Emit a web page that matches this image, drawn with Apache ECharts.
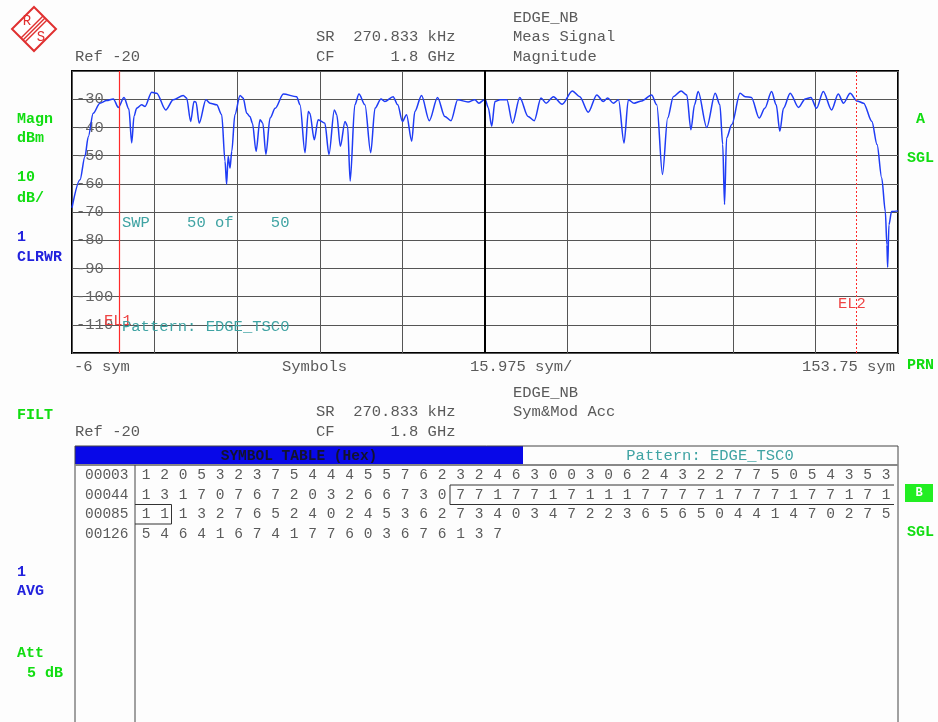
<!DOCTYPE html>
<html>
<head>
<meta charset="utf-8">
<script src="https://cdn.jsdelivr.net/npm/echarts@6/dist/echarts.min.js"></script>
<style>
  html, body { margin: 0; padding: 0; background: #fdfdfd; }
  #main { width: 938px; height: 722px; }
</style>
</head>
<body>
<div id="main"></div>
<script>
// trace: symbol position (sym) / magnitude (dBm)
var symbolPos = [-6, -4.45, -3.5, -2.85, -1.9, -0.6, 0.7, 2.0, 2.96, 4.06, 5.0, 5.55, 6.0, 6.5, 7.48, 8.12, 9.41, 10.38, 12.12, 13.59,
  15.52, 16.17, 16.95, 17.59, 17.98, 18.6, 19.9, 20.7, 21.98, 22.95, 23.6, 23.9, 24.2, 24.56, 24.9, 25.5, 26.5, 27.1, 27.8, 28.4,
  28.9, 29.6, 30.36, 30.9, 31.5, 32.3, 33.3, 34.87, 37.45, 38.1, 39.06, 39.7, 40.0, 40.86, 41.6, 42.9, 43.7, 44.73, 45.2, 45.9,
  46.8, 47.3, 47.8, 48.7, 49.5, 50.66, 51.77, 52.6, 53.76, 54.5, 56.1, 57.0, 57.9, 58.7, 59.7, 60.3, 61.6, 63.1, 64.7, 66.1,
  67.3, 68.6, 70.6, 71.9, 72.7, 73.9, 74.5, 75.17, 75.8, 76.8, 78.1, 79.2, 80.6, 82.2, 83.4, 84.7, 85.7, 87.1, 88.8, 90.76,
  92.2, 93.85, 95.5, 96.75, 97.6, 98.7, 99.7, 100.76, 101.6, 102.7, 104.2, 106.1, 107.1, 108.2, 109.2, 110.3, 111.8, 112.9, 113.7, 114.4,
  115.1, 116.75, 118.4, 119.3, 119.85, 120.2, 120.6, 121.6, 123.2, 124.2, 125.4, 126.9, 128, 129.3, 130.2, 130.9, 131.6, 132.9, 134.5, 135.8,
  136.9, 138.0, 139.3, 140.9, 142.2, 143.2, 144.5, 145.8, 147.1, 148.7, 149.7, 150.6, 151.3, 151.6, 151.75, 152.0, 152.5, 153.75];
var magnitude = [-68.5, -58.6, -50.3, -43.3, -35, -31.4, -30.5, -29.9, -32.9, -29.4, -33.5, -45.5, -36, -33.2, -32, -32.6, -27.5, -27.9, -33.8, -30.2,
  -28.7, -29.6, -37.9, -30.8, -31, -38.5, -30.2, -31.4, -32, -35.5, -52, -60.2, -50.2, -54.4, -48.5, -35.5, -28.7, -29.6, -35, -36.1,
  -38.5, -48.5, -37.3, -38.5, -49.6, -36.7, -33.2, -28.2, -29.1, -32, -49, -34.4, -35, -44.4, -37.3, -38.5, -49.6, -33.8, -35.5, -46.7,
  -37.9, -39.6, -59, -32, -28.2, -32, -49, -33.2, -29.9, -30.8, -29.1, -32, -37.9, -35.5, -44.9, -34.4, -28.7, -37.6, -29.4, -36.1,
  -37.6, -30.2, -31, -30.2, -31.4, -30, -33, -39.6, -30.8, -30.2, -30.2, -38.5, -29.4, -36.1, -37.6, -29.6, -31.4, -29.1, -31.8, -27.1,
  -29.1, -34.6, -28.5, -30.8, -29.6, -31.4, -30.2, -45.5, -30.2, -31.4, -30.6, -28.5, -32, -56.7, -36.7, -29.1, -27.1, -28.5, -40.8, -32,
  -27.3, -40, -27.9, -32, -46.1, -67.3, -43.7, -39, -27.9, -29.1, -29.4, -36.7, -33.2, -27.3, -32, -41.4, -33.2, -27.9, -32.9, -29.9,
  -29.4, -33.2, -27.3, -33.8, -28.2, -31.4, -27.9, -30.6, -31.4, -37.9, -46.1, -57.9, -69.8, -81.6, -89.6, -74.5, -69.8, -69.6];

var xStart = -6, symPerDiv = 15.975;
var displayLines = [3.2, 145.6];   // EL1, EL2

var rowLabels = ['00003', '00044', '00085', '00126'];
var symRows = [
  [1,2,0,5,3,2,3,7,5,4,4,4,5,5,7,6,2,3,2,4,6,3,0,0,3,0,6,2,4,3,2,2,7,7,5,0,5,4,3,5,3],
  [1,3,1,7,0,7,6,7,2,0,3,2,6,6,7,3,0,7,7,1,7,7,1,7,1,1,1,7,7,7,7,1,7,7,7,1,7,7,1,7,1],
  [1,1,1,3,2,7,6,5,2,4,0,2,4,5,3,6,2,7,3,4,0,3,4,7,2,2,3,6,5,6,5,0,4,4,1,4,7,0,2,7,5],
  [5,4,6,4,1,6,7,4,1,7,7,6,0,3,6,7,6,1,3,7]
];

var MONO = '"Liberation Mono", "DejaVu Sans Mono", monospace';
var GRAY = '#5a5a5a', GREEN = '#11dd11', BLUE = '#2222dd', TEAL = '#3fa3a3', RED = '#ee4444';

function txt(s, x, y, color, opt) {
  opt = opt || {};
  return {
    type: 'text', x: x, y: y, silent: true, z: 10,
    style: {
      text: s, fill: color,
      font: (opt.bold ? 'bold ' : '') + (opt.size || 15.5) + 'px ' + MONO,
      textAlign: opt.align || 'left', align: opt.align || 'left',
      textVerticalAlign: 'middle', verticalAlign: 'middle'
    }
  };
}
function lbl(s, x, y, color) { return txt(s, x, y, color, { bold: true, size: 15 }); }
function ln(x1, y1, x2, y2, color, w) {
  return { type: 'line', silent: true, z: 5, shape: { x1: x1, y1: y1, x2: x2, y2: y2 },
    style: { stroke: color || '#444', lineWidth: w || 1 } };
}

var g = [];
// R&S logo
var LOGO = '#e03030';
g.push({ type: 'polygon', silent: true, shape: { points: [[34, 7], [56, 29], [34, 51], [12, 29]] },
  style: { fill: '#fff', stroke: LOGO, lineWidth: 2 } });
g.push(ln(45, 18, 23, 40, LOGO, 1.5), ln(47, 20, 25, 42, LOGO, 1.5), ln(43, 16, 21, 38, LOGO, 1.5));
g.push(txt('R', 27, 21, LOGO, { size: 14, align: 'center' }), txt('S', 41, 37, LOGO, { size: 14, align: 'center' }));

// upper screen header
g.push(txt('EDGE_NB', 513, 18, GRAY), txt('SR  270.833 kHz', 316, 37, GRAY), txt('Meas Signal', 513, 37, GRAY),
  txt('Ref -20', 75, 57, GRAY), txt('CF      1.8 GHz', 316, 57, GRAY), txt('Magnitude', 513, 57, GRAY));
g.push(lbl('Magn', 17, 119, GREEN), lbl('dBm', 17, 138, GREEN), lbl('10', 17, 177, GREEN), lbl('dB/', 17, 198, GREEN),
  lbl('1', 17, 237, BLUE), lbl('CLRWR', 17, 257, BLUE));
g.push(lbl('A', 916, 119, GREEN), lbl('SGL', 907, 158, GREEN));
g.push(txt('SWP    50 of    50', 122, 223, TEAL), txt('EL1', 104, 321, RED), txt('Pattern: EDGE_TSC0', 122, 327, TEAL),
  txt('EL2', 838, 304, RED));
g.push(txt('-6 sym', 74, 367, GRAY), txt('Symbols', 282, 367, GRAY), txt('15.975 sym/', 470, 367, GRAY),
  txt('153.75 sym', 802, 367, GRAY), lbl('PRN', 907, 365, GREEN));

// lower screen header
g.push(txt('EDGE_NB', 513, 393, GRAY), lbl('FILT', 17, 415, GREEN),
  txt('SR  270.833 kHz', 316, 412, GRAY), txt('Sym&Mod Acc', 513, 412, GRAY),
  txt('Ref -20', 75, 432, GRAY), txt('CF      1.8 GHz', 316, 432, GRAY));
g.push(lbl('1', 17, 572, BLUE), lbl('AVG', 17, 591, BLUE), lbl('Att', 17, 653, GREEN), lbl('5 dB', 27, 673, GREEN));

// symbol table
var tL = 75, tR = 898, tT = 446, hB = 465, colX = 135, d0 = 146, dStep = 18.5, r0 = 475.5, rStep = 19.5;
g.push({ type: 'rect', silent: true, shape: { x: tL, y: tT, width: 448, height: 18 }, style: { fill: '#0808e8' } });
g.push(ln(tL, tT, tR, tT, '#444'), ln(tL, tT, tL, 722, '#444'), ln(tR, tT, tR, 722, '#444'),
  ln(tL, hB, tR, hB, '#888', 2), ln(colX, hB, colX, 722, '#444'));
g.push(txt('SYMBOL TABLE (Hex)', 299, 456, '#14142e', { bold: true, size: 14.5, align: 'center' }),
  txt('Pattern: EDGE_TSC0', 710, 456, TEAL, { align: 'center' }));
rowLabels.forEach(function (lab, r) {
  var y = r0 + r * rStep;
  g.push(txt(lab, 85, y, GRAY, { size: 14.5 }));
  symRows[r].forEach(function (v, i) {
    g.push(txt(String(v), d0 + i * dStep, y, GRAY, { size: 14.5, align: 'center' }));
  });
});
// training sequence highlight (row 2 from symbol 17, row 3 first two)
var bx = d0 + 17 * dStep - 10.5, byT = r0 + rStep - 10, byB = r0 + 2 * rStep - 10, bx2 = d0 + dStep + 7;
g.push(ln(bx, byT, 894, byT, '#333'), ln(bx, byB, 894, byB, '#333'), ln(bx, byT, bx, byB, '#333'));
g.push(ln(colX, byB + rStep, bx2, byB + rStep, '#333'), ln(bx2, byB, bx2, byB + rStep, '#333'), ln(colX, byB, bx2, byB, '#333'));
// B marker
g.push({ type: 'rect', silent: true, shape: { x: 905, y: 484, width: 28, height: 18 }, style: { fill: '#22ee22' } });
g.push(txt('B', 919, 493, '#fff', { bold: true, size: 12, align: 'center' }), lbl('SGL', 907, 532, GREEN));

var chart = echarts.init(document.getElementById('main'));
chart.setOption({
  backgroundColor: '#fdfdfd',
  animation: false,
  grid: { left: 72, top: 71, width: 826, height: 282, show: true, borderColor: '#000', borderWidth: 2, backgroundColor: 'transparent' },
  xAxis: [
    { type: 'value', min: xStart, max: xStart + 10 * symPerDiv, show: false },
    { type: 'value', min: 0, max: 10, interval: 1, axisLine: { show: false }, axisTick: { show: false }, axisLabel: { show: false },
      splitLine: { show: true, lineStyle: { color: '#555', width: 1 } } }
  ],
  yAxis: {
    type: 'value', min: -120, max: -20, interval: 10,
    axisLine: { show: false }, axisTick: { show: false },
    splitLine: { show: true, lineStyle: { color: '#555', width: 1 } },
    axisLabel: {
      inside: true, margin: 4, color: '#666', fontFamily: MONO, fontSize: 15.5,
      formatter: function (v) { return (v === -20 || v === -120) ? '' : String(v); }
    }
  },
  series: [{
    type: 'line',
    xAxisIndex: 0,
    data: symbolPos.map(function (s, i) { return [s, magnitude[i]]; }),
    showSymbol: false,
    smooth: 0.3,
    smoothMonotone: 'x',
    lineStyle: { color: '#1f3cf5', width: 1.5 },
    z: 4,
    markLine: {
      silent: true, symbol: ['none', 'none'], label: { show: false },
      data: [
        { xAxis: xStart + 5 * symPerDiv, lineStyle: { color: '#000', width: 2, type: 'solid', opacity: 1 } },
        { xAxis: displayLines[0], lineStyle: { color: '#ff2a2a', width: 1.2, type: 'solid', opacity: 1 } },
        { xAxis: displayLines[1], lineStyle: { color: '#ff2a2a', width: 1, type: [2, 2], opacity: 1 } }
      ]
    }
  }],
  graphic: g
});
</script>
</body>
</html>
